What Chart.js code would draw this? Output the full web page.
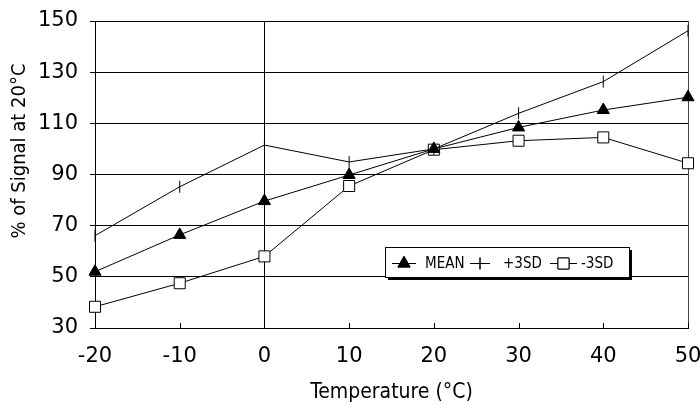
<!DOCTYPE html>
<html>
<head>
<meta charset="utf-8">
<script src="https://cdn.jsdelivr.net/npm/chart.js@4.4.0/dist/chart.umd.min.js"></script>
<style>
  html, body { margin: 0; padding: 0; background: #fff; }
  #wrap { width: 700px; height: 405px; }
</style>
</head>
<body>
<div id="wrap"><canvas id="chart"></canvas></div>
<script>
// ---------- DATA ----------
const temps = [-20, -10, 0, 10, 20, 30, 40, 50];
const meanValues = [52, 66.4, 79.6, 89.8, 100, 108.4, 115.2, 120.2];
const plus3sdValues = [66.1, 85.2, 101.5, 94.9, 100, 113.9, 126.3, 146.2];
const minus3sdValues = [38.3, 47.5, 58, 85.5, 99.7, 103.2, 104.5, 94.4];
const legendLabels = ["MEAN", "+3SD", "-3SD"];
const yTitle = "% of Signal at 20°C";
const xTitle = "Temperature (°C)";

const FONT = "'DejaVu Sans', sans-serif";
const TITLE_FONT = "'DejaVu Sans Condensed', 'Liberation Sans Narrow', 'DejaVu Sans', sans-serif";

function toPoints(values) {
    return temps.map((t, i) => ({ x: t, y: values[i] }));
}

// ---------- FRAME, INSIDE X TICKS, Y TITLE ----------
const framePlugin = {
    id: "frame",
    beforeDatasetsDraw(chart) {
        const { ctx, chartArea: a, scales } = chart;
        ctx.save();
        ctx.strokeStyle = "#444";
        ctx.lineWidth = 1;
        // right border
        ctx.beginPath();
        ctx.moveTo(Math.round(a.right) + 0.5, a.top);
        ctx.lineTo(Math.round(a.right) + 0.5, a.bottom);
        ctx.stroke();
        // small ticks pointing up from the x axis
        ctx.strokeStyle = "#000";
        temps.forEach(t => {
            const x = Math.round(scales.x.getPixelForValue(t)) + 0.5;
            ctx.beginPath();
            ctx.moveTo(x, a.bottom);
            ctx.lineTo(x, a.bottom - 5);
            ctx.stroke();
        });
        // y title, sits a little above the middle in the original
        ctx.translate(20, 151);
        ctx.rotate(-Math.PI / 2);
        ctx.font = "20px " + TITLE_FONT;
        ctx.fillStyle = "#000";
        ctx.textAlign = "center";
        ctx.textBaseline = "middle";
        ctx.fillText(yTitle, 0, 0);
        ctx.restore();
    }
};

// ---------- LEGEND BOX ----------
const legendPlugin = {
    id: "boxLegend",
    afterDraw(chart) {
        const ctx = chart.ctx;
        const bx = 385, by = 247, bw = 244, bh = 30;
        ctx.save();
        // shadow
        ctx.fillStyle = "#000";
        ctx.fillRect(bx + 3, by + 3, bw, bh);
        ctx.fillStyle = "#fff";
        ctx.fillRect(bx, by, bw, bh);
        ctx.strokeStyle = "#000";
        ctx.lineWidth = 1;
        ctx.strokeRect(bx + 0.5, by + 0.5, bw, bh);

        const cy = by + 16;
        const items = [
            { x1: 392, x2: 416, tx: 425 },
            { x1: 470, x2: 490, tx: 503 },
            { x1: 550, x2: 577, tx: 581 }
        ];
        ctx.font = "15px " + TITLE_FONT;
        ctx.textBaseline = "middle";
        ctx.fillStyle = "#000";
        items.forEach((it, i) => {
            const ds = chart.data.datasets[i];
            ctx.strokeStyle = "#000";
            ctx.beginPath();
            ctx.moveTo(it.x1, cy + 0.5);
            ctx.lineTo(it.x2, cy + 0.5);
            ctx.stroke();
            Chart.helpers.drawPoint(ctx, {
                pointStyle: ds.pointStyle,
                radius: ds.pointRadius,
                rotation: ds.pointRotation || 0,
                borderWidth: 1
            }, (it.x1 + it.x2) / 2, cy + 0.5);
            ctx.fillStyle = ds.pointBackgroundColor;
            ctx.strokeStyle = "#000";
            ctx.fill();
            ctx.stroke();
            ctx.fillStyle = "#000";
            ctx.fillText(legendLabels[i], it.tx, cy + 1);
        });
        ctx.restore();
    }
};

const ctx = document.getElementById("chart").getContext("2d");
new Chart(ctx, {
    type: "line",
    data: {
        datasets: [
            {
                label: legendLabels[0],
                data: toPoints(meanValues),
                borderColor: "#000",
                borderWidth: 1,
                pointStyle: "triangle",
                pointRadius: 7,
                pointBackgroundColor: "#000",
                pointBorderColor: "#000",
                tension: 0,
                clip: false
            },
            {
                label: legendLabels[1],
                data: toPoints(plus3sdValues),
                borderColor: "#000",
                borderWidth: 1,
                pointStyle: "line",
                pointRotation: 90,
                pointRadius: 6,
                pointBackgroundColor: "#000",
                pointBorderColor: "#000",
                tension: 0,
                clip: false
            },
            {
                label: legendLabels[2],
                data: toPoints(minus3sdValues),
                borderColor: "#000",
                borderWidth: 1,
                pointStyle: "rect",
                pointRadius: 7.8,
                pointBackgroundColor: "#fff",
                pointBorderColor: "#000",
                tension: 0,
                clip: false
            }
        ]
    },
    options: {
        responsive: true,
        maintainAspectRatio: false,
        animation: false,
        layout: { padding: { top: 21, right: 12, left: 0, bottom: 0 } },
        plugins: {
            legend: { display: false },
            tooltip: { enabled: false }
        },
        scales: {
            x: {
                type: "linear",
                min: -20,
                max: 50,
                ticks: {
                    stepSize: 10,
                    color: "#000",
                    font: { family: FONT, size: 21 },
                    padding: 16
                },
                grid: {
                    color: c => (c.tick && c.tick.value === 0 ? "#000" : "rgba(0,0,0,0)"),
                    drawTicks: false
                },
                border: { color: "#000", width: 1 },
                title: {
                    display: true,
                    text: xTitle,
                    color: "#000",
                    font: { family: TITLE_FONT, size: 21 },
                    padding: { top: 0, bottom: 0 }
                },
                afterFit: s => { s.height = 77; s.paddingLeft = 0; s.paddingRight = 0; }
            },
            y: {
                min: 30,
                max: 150,
                ticks: {
                    stepSize: 10,
                    color: "#000",
                    font: { family: FONT, size: 21 },
                    padding: 12,
                    callback: v => ((v - 30) % 20 === 0 ? v : "")
                },
                grid: {
                    color: c => (c.tick && (c.tick.value - 30) % 20 === 0 ? "#000" : "rgba(0,0,0,0)"),
                    tickColor: "#000",
                    tickLength: 5
                },
                border: { color: "#000", width: 1 },
                afterFit: s => { s.width = 95; s.paddingTop = 0; s.paddingBottom = 0; }
            }
        }
    },
    plugins: [framePlugin, legendPlugin]
});
</script>
</body>
</html>
